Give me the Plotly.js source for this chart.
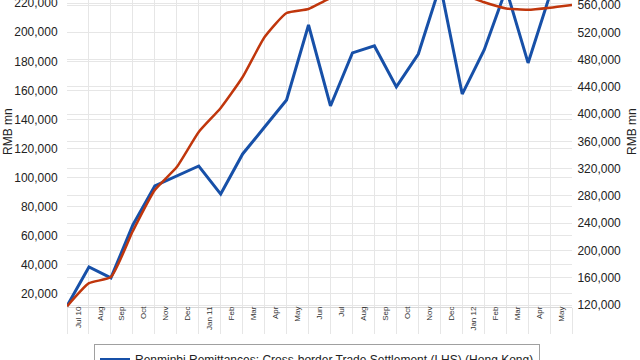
<!DOCTYPE html>
<html>
<head>
<meta charset="utf-8">
<script src="https://cdn.plot.ly/plotly-3.0.1.min.js"></script>
<style>html,body{margin:0;padding:0;background:#fff;}#chart{width:640px;height:360px;}</style>
</head>
<body>
<div id="chart"></div>
<script>
// Month labels (Jul 2010 .. Jun 2012)
const months = ["Jul 10","Aug","Sep","Oct","Nov","Dec","Jan 11","Feb","Mar","Apr","May","Jun",
                "Jul","Aug","Sep","Oct","Nov","Dec","Jan 12","Feb","Mar","Apr","May","Jun"];
// Renminbi remittances: cross-border trade settlement (LHS), RMB mn
const tradeSettlement = [11700, 38500, 31000, 67400, 94300, 101000, 108000, 88700, 116300, 134800,
                         153400, 205000, 149300, 185800, 190600, 162400, 185000, 232500, 157500,
                         187800, 229800, 178900, 226000];
// Renminbi deposits (RHS), RMB mn
const deposits = [118000, 152000, 161000, 228500, 288700, 322400, 373800, 409000, 454400, 513000,
                  548300, 554200, 570000, 575000, 622000, 618000, 627000, 588000, 576000,
                  564000, 555000, 553000, 556000, 560000];

const idxA = tradeSettlement.map((_, i) => i);
const idxB = deposits.map((_, i) => i);
const labelText = months.slice(0, 23);
const labelPos = labelText.map((_, i) => i + 0.5);
const gridPos = months.map((_, i) => i);

const font = "Liberation Sans, Arial, sans-serif";

const traces = [
  {
    x: idxA, y: tradeSettlement, type: "scatter", mode: "lines",
    name: "Renminbi Remittances: Cross-border Trade Settlement (LHS) (Hong Kong)",
    line: {color: "#1750a8", width: 3}, xaxis: "x", yaxis: "y"
  },
  {
    x: idxB, y: deposits, type: "scatter", mode: "lines",
    name: "Renminbi Deposits (RHS) (Hong Kong)",
    line: {color: "#c0360c", width: 2.5, shape: "spline", smoothing: 0.5}, xaxis: "x", yaxis: "y2"
  },
  {
    x: [], y: [], type: "scatter", mode: "lines", xaxis: "x2", yaxis: "y",
    showlegend: false, hoverinfo: "skip"
  }
];

const layout = {
  width: 640, height: 360,
  margin: {l: 67, r: 68, t: 0, b: 53, pad: 0, autoexpand: false},
  paper_bgcolor: "#ffffff", plot_bgcolor: "#ffffff",
  font: {family: font, color: "#333"},
  showlegend: true,
  legend: {
    xref: "container", yref: "container", x: 94/640, y: 1 - 344/360,
    xanchor: "left", yanchor: "top", orientation: "v",
    bordercolor: "#a0a0a0", borderwidth: 1, bgcolor: "#ffffff",
    font: {family: font, size: 12, color: "#222"}
  },
  xaxis: {
    range: [0, 23], zeroline: false,
    tickmode: "array", tickvals: gridPos, ticktext: gridPos.map(() => ""),
    showgrid: true, gridcolor: "#e6e6e6", gridwidth: 1,
    ticks: "outside", ticklen: 26, tickcolor: "#e6e6e6", tickwidth: 1,
    showline: true, linecolor: "#d8d8d8", linewidth: 1
  },
  xaxis2: {
    range: [0, 23], overlaying: "x", anchor: "y", side: "bottom", zeroline: false,
    tickmode: "array", tickvals: labelPos, ticktext: labelText,
    showgrid: false, ticks: "", tickangle: -90, ticklabelstandoff: -3,
    tickfont: {family: font, size: 8, color: "#333"}
  },
  yaxis: {
    range: [11000, 222200], tickmode: "linear", tick0: 0, dtick: 20000,
    tickformat: ",d", showgrid: true, gridcolor: "#e6e6e6", zeroline: false,
    ticklabeloverflow: "allow",
    tickfont: {family: font, size: 12, color: "#222"}, ticks: "outside", ticklen: 6, tickcolor: "rgba(0,0,0,0)"
  },
  yaxis2: {
    range: [117070, 567370], tickmode: "linear", tick0: 0, dtick: 40000,
    tickformat: ",d", showgrid: true, gridcolor: "#e6e6e6", zeroline: false,
    overlaying: "y", side: "right", anchor: "x", ticklabeloverflow: "allow",
    tickfont: {family: font, size: 12, color: "#222"}, ticks: "outside", ticklen: 2, tickcolor: "rgba(0,0,0,0)"
  },
  annotations: [
    {text: "RMB mn", xref: "paper", yref: "paper", x: (8 - 67)/505, y: 1 - 132/307,
     xanchor: "center", yanchor: "middle", textangle: -90, showarrow: false,
     font: {family: font, size: 12, color: "#222"}},
    {text: "RMB mn", xref: "paper", yref: "paper", x: (632 - 67)/505, y: 1 - 132/307,
     xanchor: "center", yanchor: "middle", textangle: -90, showarrow: false,
     font: {family: font, size: 12, color: "#222"}}
  ]
};

Plotly.newPlot("chart", traces, layout, {displayModeBar: false, staticPlot: true});
</script>
</body>
</html>
